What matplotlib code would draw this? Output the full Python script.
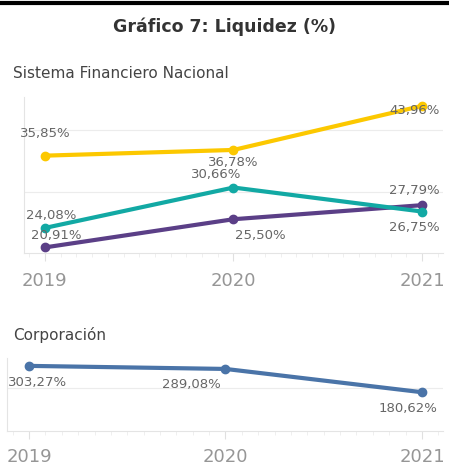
import matplotlib
matplotlib.use('Agg')
import matplotlib.pyplot as plt
from matplotlib.lines import Line2D
from matplotlib.ticker import MultipleLocator
import numpy as np

W, H = 449, 476

years = ['2019', '2020', '2021']

sfn_yellow = [35.85, 36.78, 43.96]
sfn_teal = [24.08, 30.66, 26.75]
sfn_purple = [20.91, 25.50, 27.79]
corp_blue = [303.27, 289.08, 180.62]

YELLOW = '#fcc800'
TEAL = '#12a9a4'
PURPLE = '#5b3f87'
BLUE = '#4a74a8'
LABEL = '#666666'
GRID = '#ececec'


def fmt(v):
    return f"{v:.2f}".replace('.', ',') + '%'


def px_axes(fig, left, top, right, bottom):
    return fig.add_axes([left / W, 1 - bottom / H, (right - left) / W, (bottom - top) / H])


def style_axes(ax, pad):
    for s in ['top', 'right']:
        ax.spines[s].set_visible(False)
    for s in ['left', 'bottom']:
        ax.spines[s].set_color('#e4e4e4')
        ax.spines[s].set_linewidth(0.8)
    ax.set_xticks(range(len(years)))
    ax.set_xticklabels(years)
    ax.xaxis.set_minor_locator(MultipleLocator(1 / 12))
    ax.tick_params(axis='x', which='major', length=6, width=0.8, color='#e0e0e0',
                   labelsize=13, labelcolor='#969696', pad=pad)
    ax.tick_params(axis='x', which='minor', length=3, width=0.6, color='#ececec')
    ax.tick_params(axis='y', left=False, labelleft=False)
    ax.set_axisbelow(True)


def point_labels(ax, vals, offsets):
    # offsets in pixels (dx, dy), dy positive up
    for i, (v, (dx, dy)) in enumerate(zip(vals, offsets)):
        ax.annotate(fmt(v), (i, v), xytext=(dx * 0.72, dy * 0.72), textcoords='offset points',
                    ha='center', va='center', fontsize=9.5, color=LABEL, zorder=6)


fig = plt.figure(figsize=(W / 100, H / 100), dpi=100)

# black rule at top
fig.add_artist(Line2D([0, 1], [1 - 3 / H, 1 - 3 / H], color='black', linewidth=3))

fig.text(0.5, 1 - 27 / H, 'Gráfico 7: Liquidez (%)', ha='center', va='center',
         fontsize=12.5, fontweight='bold', color='#333333')
fig.text(13 / W, 1 - 73 / H, 'Sistema Financiero Nacional', ha='left', va='center',
         fontsize=11, color='#444444')
fig.text(13 / W, 1 - 335 / H, 'Corporación', ha='left', va='center',
         fontsize=11, color='#444444')

# top panel
ax1 = px_axes(fig, 24, 97, 443, 253)
ax1.set_xlim(-0.111, 2.111)
ax1.set_ylim(20, 45.4)
for g in [30, 40]:
    ax1.axhline(g, color=GRID, linewidth=0.8, zorder=0)
style_axes(ax1, 8)

x = np.arange(len(years))
ax1.plot(x, sfn_purple, color=PURPLE, linewidth=3, marker='o', markersize=6, zorder=3)
ax1.plot(x, sfn_teal, color=TEAL, linewidth=3, marker='o', markersize=6, zorder=4)
ax1.plot(x, sfn_yellow, color=YELLOW, linewidth=3, marker='o', markersize=6, zorder=3)

point_labels(ax1, sfn_yellow, [(0, 22), (0, -13), (-8, -5)])
point_labels(ax1, sfn_teal, [(6, 12), (-17, 13), (-8, -16)])
point_labels(ax1, sfn_purple, [(11, 12), (27, -16), (-8, 15)])

# bottom panel
ax2 = px_axes(fig, 7, 358, 443, 431)
ax2.set_xlim(-0.112, 2.107)
ax2.set_ylim(0, 340)
ax2.axhline(200, color=GRID, linewidth=0.8, zorder=0)
style_axes(ax2, 6)

ax2.plot(x, corp_blue, color=BLUE, linewidth=3, marker='o', markersize=6, zorder=3)
point_labels(ax2, corp_blue, [(9, -17), (-34, -16), (-14, -16)])

fig.savefig('out.png', dpi=100)
